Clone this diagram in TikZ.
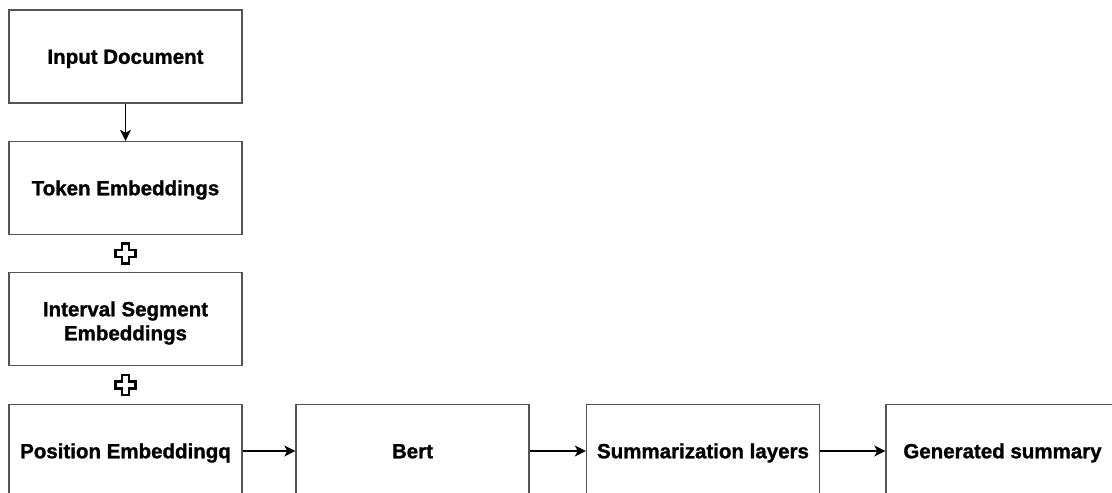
\documentclass[tikz,border=0pt]{standalone}
\usepackage{fontspec}
\setmainfont{Liberation Sans}[BoldFeatures={FakeBold=1.2}]
\usetikzlibrary{arrows.meta,calc}

\tikzset{
  stage/.style={draw=black!67, line width=1.4pt, fill=white, minimum width=233pt,
    minimum height=93pt, inner sep=0pt, align=center, text height=15pt, text depth=0.5pt,
    font=\fontsize{20.5}{24}\selectfont\bfseries},
  flow/.style={-{Stealth[length=11pt,width=11pt,inset=3pt]}, line width=1.3pt},
  plusmark/.style={draw=black, line width=2.5pt, fill=white, line join=miter}
}

\newcommand{\plusat}[1]{%
  \draw[plusmark] ($(#1)+(-3.5,-10)$) -- ++(7,0) -- ++(0,6.5) -- ++(6.5,0) -- ++(0,7)
    -- ++(-6.5,0) -- ++(0,6.5) -- ++(-7,0) -- ++(0,-6.5) -- ++(-6.5,0) -- ++(0,-7)
    -- ++(6.5,0) -- cycle;}

\begin{document}
\begin{tikzpicture}[x=1pt, y=-1pt]
    \useasboundingbox (0,0) rectangle (1112,493);

    % Left column
    \node[stage] (input) at (125.5,56.5) {Input Document};
    \node[stage] (token) at (125.5,188) {Token Embeddings};
    \node[stage, text height=43pt] (segment) at (125.5,319) {Interval Segment\\Embeddings};
    \node[stage] (position) at (125.5,451) {Position Embeddingq};

    % Bottom row
    \node[stage] (bert) at (412.5,451) {Bert};
    \node[stage] (summ) at (703,451) {Summarization layers};
    \node[stage] (summary) at (1002.5,451) {Generated summary};

    % Arrows
    \draw[flow] (input) -- (token);
    \draw[flow] (position) -- (bert);
    \draw[flow] (bert) -- (summ);
    \draw[flow] (summ) -- (summary);

    % Plus signs
    \coordinate (plus1) at ($(token.south)!0.5!(segment.north)$);
    \coordinate (plus2) at ($(segment.south)!0.5!(position.north)$);
    \plusat{plus1}
    \plusat{plus2}

\end{tikzpicture}
\end{document}
